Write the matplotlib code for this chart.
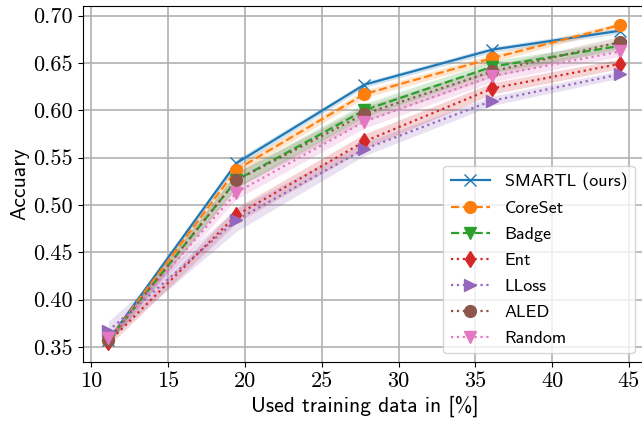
import numpy as np
import matplotlib.pyplot as plt

# fraction of training data used (x axis)
used = [11.11, 19.44, 27.78, 36.11, 44.44]

# mean accuracy per method
smartl = [0.357, 0.544, 0.627, 0.664, 0.684]
coreset = [0.357, 0.537, 0.617, 0.655, 0.690]
badge = [0.357, 0.526, 0.600, 0.646, 0.668]
ent = [0.355, 0.489, 0.567, 0.623, 0.649]
lloss = [0.367, 0.484, 0.559, 0.610, 0.638]
aled = [0.357, 0.526, 0.596, 0.641, 0.672]
random_ = [0.359, 0.513, 0.588, 0.636, 0.662]

# spread (shaded bands)
smartl_sd = [0.003, 0.004, 0.003, 0.003, 0.003]
coreset_sd = [0.003, 0.005, 0.004, 0.004, 0.003]
badge_sd = [0.004, 0.008, 0.007, 0.006, 0.005]
ent_sd = [0.004, 0.008, 0.008, 0.006, 0.005]
lloss_sd = [0.010, 0.012, 0.007, 0.005, 0.004]
aled_sd = [0.004, 0.008, 0.008, 0.006, 0.006]
random_sd = [0.004, 0.007, 0.007, 0.006, 0.005]

series = [
    ('SMARTL (ours)', smartl, smartl_sd, '-', 'x', 'tab:blue'),
    ('CoreSet', coreset, coreset_sd, '--', 'o', 'tab:orange'),
    ('Badge', badge, badge_sd, '--', 'v', 'tab:green'),
    ('Ent', ent, ent_sd, ':', 'd', 'tab:red'),
    ('LLoss', lloss, lloss_sd, ':', '>', 'tab:purple'),
    ('ALED', aled, aled_sd, ':', 'o', 'tab:brown'),
    ('Random', random_, random_sd, ':', 'v', 'tab:pink'),
]

plt.rcParams['font.family'] = ['cmss10', 'DejaVu Sans']

fig = plt.figure(figsize=(6.42, 4.26), dpi=100)
ax = fig.add_axes([0.129, 0.150, 0.877, 0.836])

x = np.array(used)
for label, mean, sd, ls, mk, col in series:
    mean = np.array(mean)
    sd = np.array(sd)
    ax.fill_between(x, mean - sd, mean + sd, color=col, alpha=0.2, lw=0)
    ax.plot(x, mean, ls=ls, marker=mk, color=col, lw=1.6, ms=8.5,
            label=label)

yt = np.arange(0.35, 0.701, 0.05)
ax.set_yticks(yt)
ax.set_yticklabels([f'{v:.2f}' for v in yt])
ax.set_xticks(np.arange(10, 46, 5))
for t in ax.get_xticklabels() + ax.get_yticklabels():
    t.set_fontfamily('cmr10')
    t.set_fontsize(16)

ax.grid(True, color='#b0b0b0', lw=1.2)
ax.set_axisbelow(True)
ax.set_xlabel('Used training data in [%]', fontsize=15.5, labelpad=3)
ax.set_ylabel('Accuary', fontsize=15.5, labelpad=3)
ax.legend(loc='lower right', bbox_to_anchor=(0.980, 0.025), borderaxespad=0,
          fontsize=13, handlelength=2.2, labelspacing=0.57)

fig.savefig('out.png', dpi=100)
